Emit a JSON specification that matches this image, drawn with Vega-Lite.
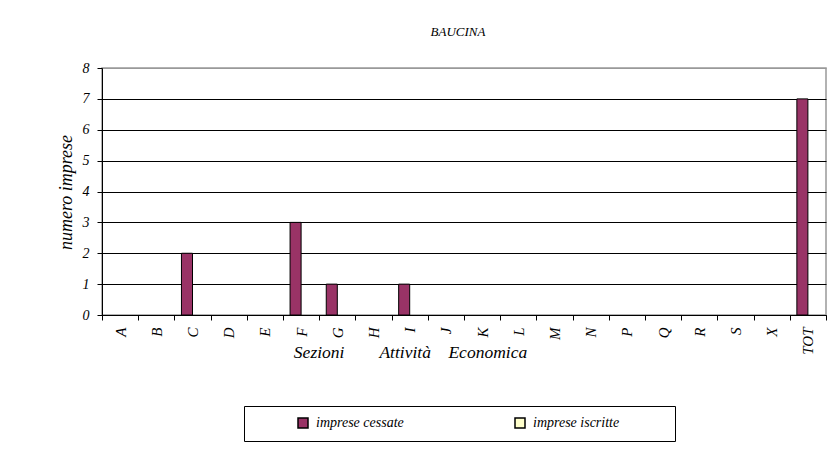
{
  "$schema": "https://vega.github.io/schema/vega-lite/v6.json",
  "autosize": {"type": "none"},
  "padding": {"left": 102, "top": 68, "right": 10, "bottom": 137},
  "width": 724,
  "height": 247,
  "background": "white",
  "title": {
    "text": "BAUCINA",
    "font": "Liberation Serif",
    "fontStyle": "italic",
    "fontWeight": "normal",
    "fontSize": 13,
    "color": "black",
    "anchor": "middle",
    "dx": -6,
    "offset": 22
  },
  "config": {
    "view": {"stroke": "#999999", "strokeWidth": 1.5},
    "font": "Liberation Serif"
  },
  "data": {
    "values": [
      {"sezione": "A", "serie": "imprese cessate", "valore": 0},
      {"sezione": "B", "serie": "imprese cessate", "valore": 0},
      {"sezione": "C", "serie": "imprese cessate", "valore": 2},
      {"sezione": "D", "serie": "imprese cessate", "valore": 0},
      {"sezione": "E", "serie": "imprese cessate", "valore": 0},
      {"sezione": "F", "serie": "imprese cessate", "valore": 3},
      {"sezione": "G", "serie": "imprese cessate", "valore": 1},
      {"sezione": "H", "serie": "imprese cessate", "valore": 0},
      {"sezione": "I", "serie": "imprese cessate", "valore": 1},
      {"sezione": "J", "serie": "imprese cessate", "valore": 0},
      {"sezione": "K", "serie": "imprese cessate", "valore": 0},
      {"sezione": "L", "serie": "imprese cessate", "valore": 0},
      {"sezione": "M", "serie": "imprese cessate", "valore": 0},
      {"sezione": "N", "serie": "imprese cessate", "valore": 0},
      {"sezione": "P", "serie": "imprese cessate", "valore": 0},
      {"sezione": "Q", "serie": "imprese cessate", "valore": 0},
      {"sezione": "R", "serie": "imprese cessate", "valore": 0},
      {"sezione": "S", "serie": "imprese cessate", "valore": 0},
      {"sezione": "X", "serie": "imprese cessate", "valore": 0},
      {"sezione": "TOT", "serie": "imprese cessate", "valore": 7},
      {"sezione": "A", "serie": "imprese iscritte", "valore": 0},
      {"sezione": "B", "serie": "imprese iscritte", "valore": 0},
      {"sezione": "C", "serie": "imprese iscritte", "valore": 0},
      {"sezione": "D", "serie": "imprese iscritte", "valore": 0},
      {"sezione": "E", "serie": "imprese iscritte", "valore": 0},
      {"sezione": "F", "serie": "imprese iscritte", "valore": 0},
      {"sezione": "G", "serie": "imprese iscritte", "valore": 0},
      {"sezione": "H", "serie": "imprese iscritte", "valore": 0},
      {"sezione": "I", "serie": "imprese iscritte", "valore": 0},
      {"sezione": "J", "serie": "imprese iscritte", "valore": 0},
      {"sezione": "K", "serie": "imprese iscritte", "valore": 0},
      {"sezione": "L", "serie": "imprese iscritte", "valore": 0},
      {"sezione": "M", "serie": "imprese iscritte", "valore": 0},
      {"sezione": "N", "serie": "imprese iscritte", "valore": 0},
      {"sezione": "P", "serie": "imprese iscritte", "valore": 0},
      {"sezione": "Q", "serie": "imprese iscritte", "valore": 0},
      {"sezione": "R", "serie": "imprese iscritte", "valore": 0},
      {"sezione": "S", "serie": "imprese iscritte", "valore": 0},
      {"sezione": "X", "serie": "imprese iscritte", "valore": 0},
      {"sezione": "TOT", "serie": "imprese iscritte", "valore": 0}
    ]
  },
  "transform": [{"filter": "datum.valore > 0"}],
  "mark": {"type": "bar", "stroke": "black", "strokeWidth": 1},
  "encoding": {
    "x": {
      "field": "sezione",
      "type": "nominal",
      "sort": ["A","B","C","D","E","F","G","H","I","J","K","L","M","N","P","Q","R","S","X","TOT"],
      "scale": {"domain": ["A","B","C","D","E","F","G","H","I","J","K","L","M","N","P","Q","R","S","X","TOT"], "paddingInner": 0, "paddingOuter": 0},
      "axis": {
        "title": "Sezioni\u00a0\u00a0\u00a0\u00a0\u00a0\u00a0\u00a0\u00a0Attività\u00a0\u00a0\u00a0\u00a0Economica",
        "titleFont": "Liberation Serif",
        "titleFontStyle": "italic",
        "titleFontWeight": "normal",
        "titleFontSize": 17.5,
        "titleColor": "black",
        "titleX": 308,
        "titleY": 42,
        "titleAlign": "center",
        "titleBaseline": "alphabetic",
        "labelAngle": 270,
        "labelFont": "Liberation Serif",
        "labelFontStyle": "italic",
        "labelFontSize": 15,
        "labelColor": "black",
        "labelPadding": 7,
        "tickBand": "extent",
        "tickSize": 5,
        "tickColor": "black",
        "domainColor": "black",
        "domainWidth": 1,
        "grid": false
      }
    },
    "xOffset": {
      "field": "serie",
      "type": "nominal",
      "scale": {"domain": ["imprese cessate", "imprese iscritte"], "paddingInner": 0, "paddingOuter": 0.64}
    },
    "y": {
      "field": "valore",
      "type": "quantitative",
      "scale": {"domain": [0, 8], "nice": false},
      "axis": {
        "title": "numero imprese",
        "titleFont": "Liberation Serif",
        "titleFontStyle": "italic",
        "titleFontWeight": "normal",
        "titleFontSize": 18,
        "titleColor": "black",
        "titleAngle": 270,
        "titleX": -36,
        "titleY": 124,
        "titleAlign": "center",
        "titleBaseline": "middle",
        "values": [0,1,2,3,4,5,6,7,8],
        "format": "d",
        "labelFont": "Liberation Serif",
        "labelFontStyle": "italic",
        "labelFontSize": 14,
        "labelColor": "black",
        "labelPadding": 8,
        "tickSize": 5,
        "tickColor": "black",
        "domainColor": "black",
        "domainWidth": 1,
        "grid": true,
        "gridColor": {"condition": {"test": "datum.value === 8", "value": "#999999"}, "value": "black"},
        "gridWidth": 1
      }
    },
    "color": {
      "field": "serie",
      "type": "nominal",
      "scale": {"domain": ["imprese cessate", "imprese iscritte"], "range": ["#993366", "#FFFFCC"]},
      "legend": {
        "orient": "none",
        "legendX": 142,
        "legendY": 338,
        "direction": "horizontal",
        "columns": 2,
        "title": "\u200b",
        "titleOrient": "left",
        "titleFont": "Liberation Serif",
        "titleFontSize": 13,
        "titlePadding": 42,
        "padding": 10,
        "strokeColor": "black",
        "fillColor": "white",
        "symbolType": "square",
        "symbolSize": 100,
        "symbolStrokeColor": "black",
        "symbolStrokeWidth": 1.5,
        "symbolOpacity": 1,
        "labelFont": "Liberation Serif",
        "labelFontStyle": "italic",
        "labelFontSize": 14,
        "labelColor": "black",
        "labelOffset": 6,
        "columnPadding": 108,
        "labelExpr": "datum.label == 'imprese iscritte' ? datum.label + '\u00a0\u00a0\u00a0\u00a0\u00a0\u00a0\u00a0\u00a0\u00a0\u00a0\u00a0\u00a0\u00a0\u200b' : datum.label"
      }
    }
  }
}
